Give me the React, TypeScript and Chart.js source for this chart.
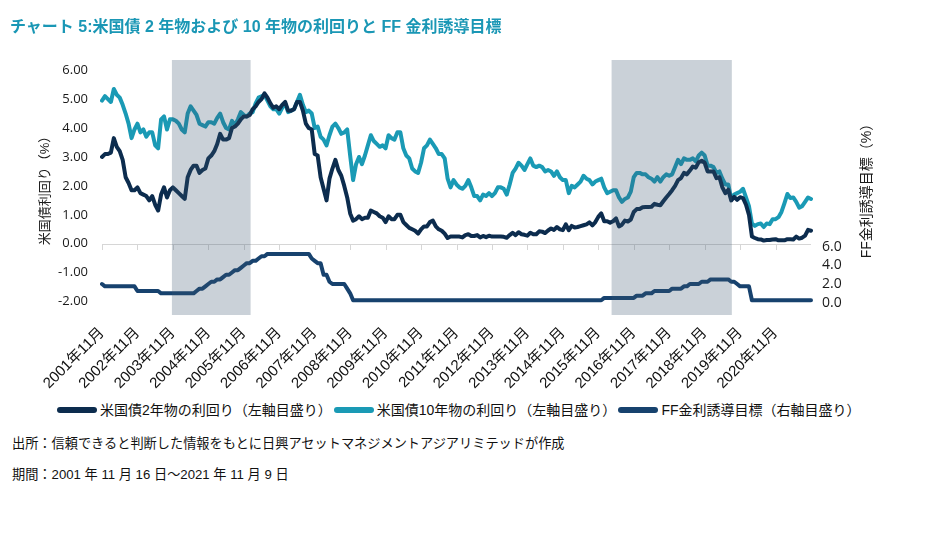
import React, { useEffect, useRef } from "react";
import { Chart, registerables } from "chart.js";

Chart.register(...registerables);

// ---- data -------------------------------------------------------------
const START_YEAR = 2001;
const START_MONTH = 11;
const MONTH_COUNT = 241; // 2001年11月 … 2021年11月

const MONTHS: string[] = [];
for (let i = 0; i < MONTH_COUNT; i++) {
  const m0 = START_MONTH - 1 + i;
  MONTHS.push(`${START_YEAR + Math.floor(m0 / 12)}年${(m0 % 12) + 1}月`);
}

const TICK_LABELS = [
  "2001年11月", "2002年11月", "2003年11月", "2004年11月", "2005年11月",
  "2006年11月", "2007年11月", "2008年11月", "2009年11月", "2010年11月",
  "2011年11月", "2012年11月", "2013年11月", "2014年11月", "2015年11月",
  "2016年11月", "2017年11月", "2018年11月", "2019年11月", "2020年11月",
];

// 米国債2年物の利回り (%)
const YIELD_2Y = [
  3.0, 3.1,
  3.1, 3.15, 3.65, 3.35, 3.2, 2.9, 2.3, 2.1, 1.85, 1.85, 1.95, 1.75,
  1.7, 1.65, 1.5, 1.65, 1.35, 1.15, 1.7, 1.95, 1.6, 1.85, 1.95, 1.85,
  1.75, 1.65, 1.55, 2.3, 2.55, 2.7, 2.7, 2.45, 2.55, 2.6, 2.95, 3.05,
  3.2, 3.45, 3.8, 3.6, 3.6, 3.65, 4.0, 4.05, 4.15, 4.3, 4.4, 4.4,
  4.45, 4.65, 4.75, 4.9, 5.0, 5.2, 5.05, 4.85, 4.7, 4.75, 4.65, 4.8,
  4.9, 4.6, 4.6, 4.65, 4.9, 4.9, 4.6, 4.15, 4.0, 3.95, 3.1, 3.05,
  2.3, 1.9, 1.5, 2.25, 2.6, 2.9, 2.55, 2.35, 2.0, 1.6, 1.05, 0.8,
  0.85, 0.95, 0.85, 0.9, 0.9, 1.15, 1.1, 1.05, 0.95, 0.9, 0.75, 0.95,
  0.85, 0.85, 1.0, 1.0, 0.75, 0.65, 0.55, 0.5, 0.45, 0.35, 0.5, 0.6,
  0.6, 0.75, 0.8, 0.6, 0.5, 0.45, 0.35, 0.2, 0.25, 0.25, 0.25, 0.25,
  0.22, 0.3, 0.33, 0.27, 0.27, 0.3, 0.22, 0.27, 0.23, 0.28, 0.25, 0.25,
  0.25, 0.25, 0.24, 0.21, 0.3, 0.38, 0.3, 0.4, 0.33, 0.31, 0.28, 0.38,
  0.33, 0.33, 0.43, 0.42, 0.37, 0.46, 0.53, 0.48, 0.58, 0.5, 0.47, 0.67,
  0.47, 0.62, 0.56, 0.58, 0.61, 0.64, 0.67, 0.74, 0.64, 0.75, 0.93, 1.05,
  0.78, 0.78, 0.73, 0.78, 0.88, 0.6, 0.66, 0.8, 0.77, 0.84, 1.1, 1.2,
  1.2, 1.26, 1.27, 1.27, 1.28, 1.38, 1.35, 1.33, 1.47, 1.6, 1.72, 1.85,
  2.0, 2.2, 2.27, 2.45, 2.4, 2.53, 2.67, 2.63, 2.82, 2.87, 2.8, 2.5,
  2.5, 2.5, 2.27, 2.3, 1.95, 1.75, 1.87, 1.5, 1.62, 1.52, 1.61, 1.58,
  1.35, 1.0, 0.25, 0.2, 0.16, 0.15, 0.11, 0.13, 0.13, 0.15, 0.16, 0.12,
  0.12, 0.12, 0.16, 0.16, 0.15, 0.25, 0.18, 0.21, 0.28, 0.48, 0.45,
];

// 米国債10年物の利回り (%)
const YIELD_10Y = [
  4.95, 5.1,
  5.0, 4.9, 5.35, 5.15, 5.05, 4.8, 4.5, 4.15, 3.65, 3.95, 4.15, 3.85,
  3.95, 3.7, 3.85, 3.85, 3.4, 3.3, 4.3, 4.4, 3.95, 4.3, 4.3, 4.25,
  4.15, 3.95, 3.85, 4.5, 4.75, 4.6, 4.45, 4.15, 4.1, 4.05, 4.2, 4.2,
  4.15, 4.35, 4.5, 4.2, 4.0, 3.95, 4.25, 4.1, 4.3, 4.55, 4.45, 4.4,
  4.5, 4.55, 4.85, 5.05, 5.1, 5.15, 4.95, 4.75, 4.65, 4.65, 4.5, 4.7,
  4.85, 4.55, 4.6, 4.65, 4.9, 5.15, 4.8, 4.55, 4.6, 4.5, 4.0, 4.05,
  3.7, 3.6, 3.4, 3.75, 4.05, 4.15, 4.0, 3.8, 3.85, 3.95, 3.05, 2.2,
  2.75, 3.0, 2.75, 3.05, 3.4, 3.75, 3.55, 3.45, 3.35, 3.4, 3.3, 3.75,
  3.65, 3.6, 3.85, 3.85, 3.3, 3.05, 2.95, 2.6, 2.5, 2.45, 2.8, 3.3,
  3.4, 3.6, 3.45, 3.3, 3.1, 3.1, 2.95, 2.25, 1.95, 2.2, 2.05, 1.95,
  1.9, 2.0, 2.2, 1.95, 1.65, 1.65, 1.5, 1.7, 1.65, 1.75, 1.65, 1.75,
  1.95, 1.95, 1.9, 1.7, 2.05, 2.45, 2.6, 2.8, 2.7, 2.55, 2.75, 2.95,
  2.7, 2.65, 2.7, 2.65, 2.5, 2.55, 2.5, 2.35, 2.5, 2.3, 2.2, 2.2,
  1.75, 2.0, 1.95, 2.05, 2.15, 2.35, 2.25, 2.2, 2.05, 2.15, 2.2, 2.25,
  1.95, 1.75, 1.8, 1.85, 1.85, 1.6, 1.45, 1.55, 1.6, 1.8, 2.3, 2.45,
  2.45, 2.4, 2.4, 2.3, 2.25, 2.15, 2.3, 2.15, 2.3, 2.4, 2.35, 2.4,
  2.65, 2.9, 2.75, 2.95, 2.9, 2.9, 2.95, 2.85, 3.05, 3.15, 3.05, 2.7,
  2.7, 2.65, 2.45, 2.5, 2.25, 2.05, 2.05, 1.55, 1.7, 1.75, 1.8, 1.9,
  1.6, 1.3, 0.7, 0.62, 0.68, 0.7, 0.58, 0.7, 0.68, 0.85, 0.85, 0.92,
  1.1, 1.4, 1.72, 1.58, 1.6, 1.45, 1.25, 1.3, 1.45, 1.6, 1.55,
];

// FF金利誘導目標 (%, 上限)
const FF_TARGET = [
  2.0, 1.75,
  1.75, 1.75, 1.75, 1.75, 1.75, 1.75, 1.75, 1.75, 1.75, 1.75, 1.25, 1.25,
  1.25, 1.25, 1.25, 1.25, 1.25, 1.25, 1.0, 1.0, 1.0, 1.0, 1.0, 1.0,
  1.0, 1.0, 1.0, 1.0, 1.0, 1.0, 1.25, 1.5, 1.5, 1.75, 2.0, 2.25,
  2.25, 2.5, 2.5, 2.75, 3.0, 3.0, 3.25, 3.5, 3.5, 3.75, 4.0, 4.25,
  4.25, 4.5, 4.5, 4.75, 5.0, 5.0, 5.25, 5.25, 5.25, 5.25, 5.25, 5.25,
  5.25, 5.25, 5.25, 5.25, 5.25, 5.25, 5.25, 5.25, 5.25, 4.75, 4.5, 4.25,
  4.25, 3.0, 3.0, 2.25, 2.0, 2.0, 2.0, 2.0, 2.0, 1.5, 1.0, 0.25,
  0.25, 0.25, 0.25, 0.25, 0.25, 0.25, 0.25, 0.25, 0.25, 0.25, 0.25, 0.25,
  0.25, 0.25, 0.25, 0.25, 0.25, 0.25, 0.25, 0.25, 0.25, 0.25, 0.25, 0.25,
  0.25, 0.25, 0.25, 0.25, 0.25, 0.25, 0.25, 0.25, 0.25, 0.25, 0.25, 0.25,
  0.25, 0.25, 0.25, 0.25, 0.25, 0.25, 0.25, 0.25, 0.25, 0.25, 0.25, 0.25,
  0.25, 0.25, 0.25, 0.25, 0.25, 0.25, 0.25, 0.25, 0.25, 0.25, 0.25, 0.25,
  0.25, 0.25, 0.25, 0.25, 0.25, 0.25, 0.25, 0.25, 0.25, 0.25, 0.25, 0.25,
  0.25, 0.25, 0.25, 0.25, 0.25, 0.25, 0.25, 0.25, 0.25, 0.25, 0.25, 0.25,
  0.5, 0.5, 0.5, 0.5, 0.5, 0.5, 0.5, 0.5, 0.5, 0.5, 0.5, 0.75,
  0.75, 0.75, 1.0, 1.0, 1.0, 1.25, 1.25, 1.25, 1.25, 1.25, 1.25, 1.5,
  1.5, 1.5, 1.5, 1.75, 1.75, 2.0, 2.0, 2.0, 2.0, 2.25, 2.25, 2.25,
  2.5, 2.5, 2.5, 2.5, 2.5, 2.5, 2.5, 2.25, 2.25, 2.0, 1.75, 1.75,
  1.75, 1.75, 0.25, 0.25, 0.25, 0.25, 0.25, 0.25, 0.25, 0.25, 0.25, 0.25,
  0.25, 0.25, 0.25, 0.25, 0.25, 0.25, 0.25, 0.25, 0.25, 0.25, 0.25,
];

// shaded periods [start, end] as [year, month, day]
const SHADED_PERIODS: [number, number, number][][] = [
  [[2003, 11, 6], [2006, 1, 25]],
  [[2016, 3, 31], [2019, 8, 22]],
];

const LEFT_TICKS = [-2, -1, 0, 1, 2, 3, 4, 5, 6];
const RIGHT_TICKS = [0, 2, 4, 6];

const SERIES_LABELS = [
  "米国債2年物の利回り（左軸目盛り）",
  "米国債10年物の利回り（左軸目盛り）",
  "FF金利誘導目標（右軸目盛り）",
];

// ---- styles -----------------------------------------------------------
const C_2Y = "#0c2c4e";
const C_10Y = "#1a9ab5";
const C_FF = "#17426e";
const TEAL = "#1a97b5";
const JP = '"Liberation Sans", "Noto Sans CJK JP", sans-serif';
const NUM = '"Open Sans", "Noto Sans", sans-serif';

function dateToIndex(d: [number, number, number]) {
  return (d[0] - START_YEAR) * 12 + (d[1] - START_MONTH) + (d[2] - 16) / 30;
}

const decorPlugin = {
  id: "decor",
  beforeDatasetsDraw(chart: any) {
    const { ctx, chartArea } = chart;
    const x = chart.scales.x;
    const y = chart.scales.y;
    const y0 = y.getPixelForValue(0);
    ctx.save();
    ctx.strokeStyle = "#d6d6d6";
    ctx.lineWidth = 1;
    ctx.beginPath();
    ctx.moveTo(chartArea.left, Math.round(y0) + 0.5);
    ctx.lineTo(chartArea.right, Math.round(y0) + 0.5);
    TICK_LABELS.forEach((l) => {
      const px = Math.round(x.getPixelForValue(MONTHS.indexOf(l))) + 0.5;
      ctx.moveTo(px, Math.round(y0));
      ctx.lineTo(px, Math.round(y0) + 6);
    });
    ctx.stroke();
    ctx.restore();
  },
  afterDatasetsDraw(chart: any) {
    const { ctx, chartArea } = chart;
    const x = chart.scales.x;
    ctx.save();
    ctx.fillStyle = "rgba(60,85,110,0.27)";
    SHADED_PERIODS.forEach(([s, e]) => {
      const x1 = x.getPixelForValue(dateToIndex(s));
      const x2 = x.getPixelForValue(dateToIndex(e));
      ctx.fillRect(x1, chartArea.top, x2 - x1, chartArea.bottom - chartArea.top);
    });
    ctx.restore();
  },
  afterDraw(chart: any) {
    const { ctx, chartArea } = chart;
    const cy = (chartArea.top + chartArea.bottom) / 2;
    ctx.save();
    ctx.fillStyle = "#1a1a1a";
    ctx.textAlign = "center";
    ctx.textBaseline = "middle";
    ctx.font = `13px ${JP}`;
    ctx.translate(chartArea.left - 57, cy);
    ctx.rotate(-Math.PI / 2);
    ctx.fillText("米国債利回り（%）", 0, 0);
    ctx.restore();
    ctx.save();
    ctx.fillStyle = "#1a1a1a";
    ctx.textAlign = "center";
    ctx.textBaseline = "middle";
    ctx.font = `14px ${JP}`;
    ctx.translate(chartArea.right + 56, cy);
    ctx.rotate(-Math.PI / 2);
    ctx.fillText("FF金利誘導目標（%）", 0, 0);
    ctx.restore();
  },
};

export default function App() {
  const canvasRef = useRef<HTMLCanvasElement>(null);

  useEffect(() => {
    const canvas = canvasRef.current;
    if (!canvas) return;
    const chart = new Chart(canvas, {
      type: "line",
      data: {
        labels: MONTHS,
        datasets: [
          { label: SERIES_LABELS[0], data: YIELD_2Y, borderColor: C_2Y, backgroundColor: C_2Y, yAxisID: "y", order: 1 },
          { label: SERIES_LABELS[1], data: YIELD_10Y, borderColor: C_10Y, backgroundColor: C_10Y, yAxisID: "y", order: 2 },
          { label: SERIES_LABELS[2], data: FF_TARGET, borderColor: C_FF, backgroundColor: C_FF, yAxisID: "y1", order: 3 },
        ],
      },
      options: {
        responsive: false,
        animation: false,
        events: [],
        layout: { padding: { top: 60, left: 0, right: 0, bottom: 0 } },
        elements: {
          point: { radius: 0 },
          line: { borderWidth: 4, tension: 0, borderJoinStyle: "round", borderCapStyle: "round", fill: false },
        },
        plugins: {
          legend: { display: false },
          tooltip: { enabled: false },
          title: { display: false },
        },
        scales: {
          x: {
            type: "category",
            offset: false,
            grid: { display: false, drawTicks: false },
            border: { display: false },
            ticks: {
              autoSkip: false,
              minRotation: 45,
              maxRotation: 45,
              padding: 9,
              color: "#111",
              font: { family: JP, size: 15 },
            },
            afterBuildTicks: (s: any) => {
              s.ticks = TICK_LABELS.map((l) => ({ value: MONTHS.indexOf(l) }));
            },
            afterFit: (s: any) => {
              s.height = 85;
            },
          },
          y: {
            position: "left",
            min: -2.46,
            max: 6.35,
            grid: { display: false, drawTicks: false },
            border: { display: false },
            ticks: {
              padding: 14,
              color: "#1a1a1a",
              font: { family: NUM, size: 13 },
              callback: (v: any) => Number(v).toFixed(2),
            },
            afterBuildTicks: (s: any) => {
              s.ticks = LEFT_TICKS.map((v) => ({ value: v }));
            },
            afterFit: (s: any) => {
              s.width = 102;
            },
          },
          y1: {
            position: "right",
            min: -1.34,
            max: 26.17,
            grid: { display: false, drawTicks: false },
            border: { display: false },
            ticks: {
              padding: 11,
              color: "#1a1a1a",
              font: { family: NUM, size: 14 },
              callback: (v: any) => Number(v).toFixed(1),
            },
            afterBuildTicks: (s: any) => {
              s.ticks = RIGHT_TICKS.map((v) => ({ value: v }));
            },
            afterFit: (s: any) => {
              s.width = 131;
            },
          },
        },
      } as any,
      plugins: [decorPlugin],
    });
    return () => chart.destroy();
  }, []);

  const legendColors = [C_2Y, C_10Y, C_FF];

  return (
    <div
      style={{
        position: "absolute",
        left: 0,
        top: 0,
        width: 942,
        height: 536,
        background: "#fff",
        fontFamily: JP,
        color: "#111",
      }}
    >
      <canvas ref={canvasRef} width={942} height={400} style={{ position: "absolute", left: 0, top: 0, display: "block" }} />
      <div
        style={{
          position: "absolute",
          left: 10,
          top: 17,
          fontSize: 16,
          fontWeight: "bold",
          color: TEAL,
          lineHeight: "20px",
          whiteSpace: "nowrap",
        }}
      >
        チャート 5:米国債 2 年物および 10 年物の利回りと FF 金利誘導目標
      </div>
      <div
        style={{
          position: "absolute",
          left: 57,
          top: 400,
          height: 20,
          display: "flex",
          alignItems: "center",
          whiteSpace: "nowrap",
          fontSize: 14,
          lineHeight: "20px",
        }}
      >
        {SERIES_LABELS.map((l, i) => (
          <div key={l} style={{ display: "flex", alignItems: "center", marginRight: 2 }}>
            <span
              style={{
                display: "inline-block",
                width: 40,
                height: 6,
                borderRadius: 3,
                background: legendColors[i],
                marginRight: 3,
              }}
            />
            <span>{l}</span>
          </div>
        ))}
      </div>
      <div style={{ position: "absolute", left: 12, top: 435, fontSize: 13.2, lineHeight: "18px", whiteSpace: "nowrap" }}>
        出所：信頼できると判断した情報をもとに日興アセットマネジメントアジアリミテッドが作成
      </div>
      <div style={{ position: "absolute", left: 12, top: 466, fontSize: 13.2, lineHeight: "18px", whiteSpace: "nowrap" }}>
        期間：2001 年 11 月 16 日～2021 年 11 月 9 日
      </div>
    </div>
  );
}
